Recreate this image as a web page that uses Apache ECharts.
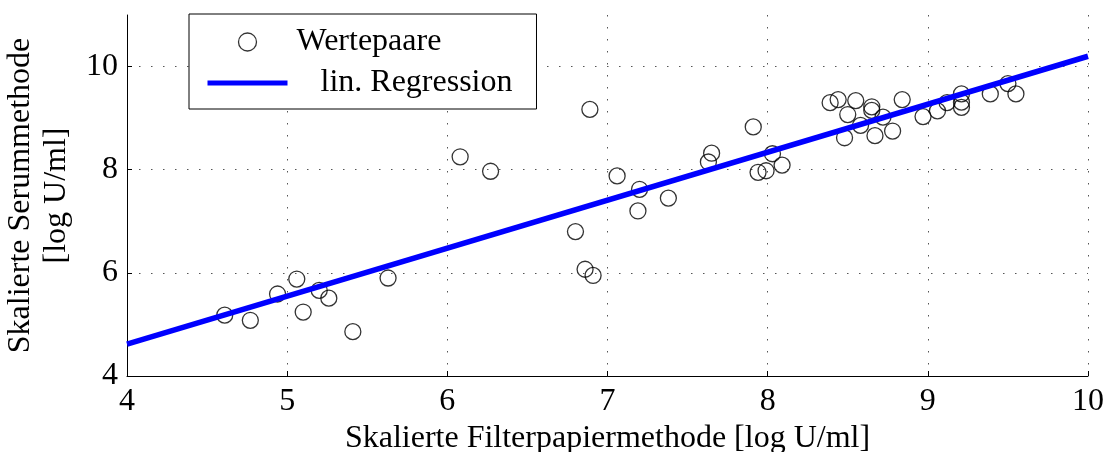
<!DOCTYPE html>
<html>
<head>
<meta charset="utf-8">
<script src="https://cdn.jsdelivr.net/npm/echarts@6/dist/echarts.min.js"></script>
<style>
  html, body { margin: 0; padding: 0; background: #fff; }
  #chart { width: 1107px; height: 452px; }
</style>
</head>
<body>
<div id="chart"></div>
<script>
// measured pairs (filter paper vs serum), log U/ml
const filterVals = [4.61, 4.77, 4.94, 5.06, 5.20, 5.10, 5.26, 5.41, 5.63, 6.08, 6.27, 6.89, 7.06, 7.20, 7.19, 7.38,
  6.80, 6.86, 6.91, 7.65, 7.63, 7.91, 8.03, 7.94, 7.99, 8.09, 8.39, 8.44, 8.55, 8.50, 8.65, 8.65, 8.72, 8.58,
  8.48, 8.67, 8.78, 8.84, 8.97, 9.06, 9.12, 9.21, 9.21, 9.21, 9.39, 9.50, 9.55];
const serumVals = [5.18, 5.08, 5.59, 5.88, 5.66, 5.24, 5.51, 4.86, 5.90, 8.25, 7.97, 9.17, 7.88, 7.62, 7.20, 7.45,
  6.80, 6.07, 5.95, 8.32, 8.15, 8.83, 8.31, 7.95, 7.98, 8.09, 9.30, 9.36, 9.34, 9.07, 9.22, 9.15, 9.02, 8.86,
  8.62, 8.66, 8.75, 9.36, 9.03, 9.14, 9.30, 9.47, 9.31, 9.21, 9.47, 9.67, 9.47];

// regression line end points
const regX = [4, 10];
const regY = [4.62, 10.2];

const yTicks = [4, 6, 8, 10];

const font = 'Liberation Serif';
const gridLine = { show: true, lineStyle: { color: '#555', width: 1, type: [1.5, 10.5] } };
const legendText = { fontFamily: font, fontSize: 32, color: '#000', lineHeight: 32 };

const chart = echarts.init(document.getElementById('chart'));

chart.setOption({
  animation: false,
  textStyle: { fontFamily: font },
  grid: { left: 127, right: 19, top: 15, bottom: 76, containLabel: false, outerBoundsMode: 'none' },
  legend: {
    orient: 'vertical',
    left: 189,
    top: 14,
    backgroundColor: '#fff',
    borderColor: '#000',
    borderWidth: 1,
    padding: [12, 24, 10, 16],
    itemGap: 9,
    itemWidth: 80,
    itemHeight: 18,
    textStyle: Object.assign({}, legendText, {
      rich: {
        a: Object.assign({}, legendText, { padding: [0, 0, 0, 4] }),
        b: Object.assign({}, legendText, { padding: [0, 0, 0, 28] })
      }
    }),
    formatter: name => (name === 'lin. Regression' ? '{b|' + name + '}' : '{a|' + name + '}'),
    data: [
      { name: 'Wertepaare', icon: 'circle', itemStyle: { color: '#fff', borderColor: '#000', borderWidth: 1.3 } },
      {
        name: 'lin. Regression',
        itemStyle: { color: 'rgba(0,0,0,0)', borderWidth: 0, opacity: 0 },
        lineStyle: { color: '#0000ff', width: 5 }
      }
    ]
  },
  xAxis: {
    type: 'value',
    min: 4,
    max: 10,
    interval: 1,
    name: 'Skalierte Filterpapiermethode [log U/ml]',
    nameLocation: 'middle',
    nameGap: 45,
    nameTextStyle: { fontFamily: font, fontSize: 32, color: '#000', lineHeight: 32 },
    axisLine: { show: true, onZero: false, lineStyle: { color: '#000', width: 1 } },
    axisTick: { show: true, inside: true, length: 5, lineStyle: { color: '#000' } },
    axisLabel: { fontFamily: font, fontSize: 32, color: '#000', margin: 10, lineHeight: 32 },
    splitLine: gridLine
  },
  yAxis: {
    type: 'value',
    min: 4,
    max: 11,
    interval: 2,
    name: 'Skalierte Serummethode\n[log U/ml]',
    nameLocation: 'middle',
    nameRotate: 90,
    nameGap: 52,
    nameTextStyle: { fontFamily: font, fontSize: 32, color: '#000', lineHeight: 36, align: 'center' },
    axisLine: { show: true, onZero: false, lineStyle: { color: '#000', width: 1 } },
    axisTick: { show: true, inside: true, length: 5, lineStyle: { color: '#000' }, customValues: yTicks },
    axisLabel: { fontFamily: font, fontSize: 32, color: '#000', margin: 9, customValues: yTicks },
    splitLine: gridLine
  },
  series: [
    {
      name: 'Wertepaare',
      type: 'scatter',
      symbol: 'circle',
      symbolSize: 16,
      itemStyle: { color: 'rgba(255,255,255,0)', borderColor: '#000', borderWidth: 1.3 },
      data: filterVals.map((x, i) => [x, serumVals[i]])
    },
    {
      name: 'lin. Regression',
      type: 'line',
      showSymbol: false,
      symbol: 'none',
      lineStyle: { color: '#0000ff', width: 5.5 },
      itemStyle: { color: '#0000ff' },
      data: regX.map((x, i) => [x, regY[i]])
    }
  ]
});
</script>
</body>
</html>
